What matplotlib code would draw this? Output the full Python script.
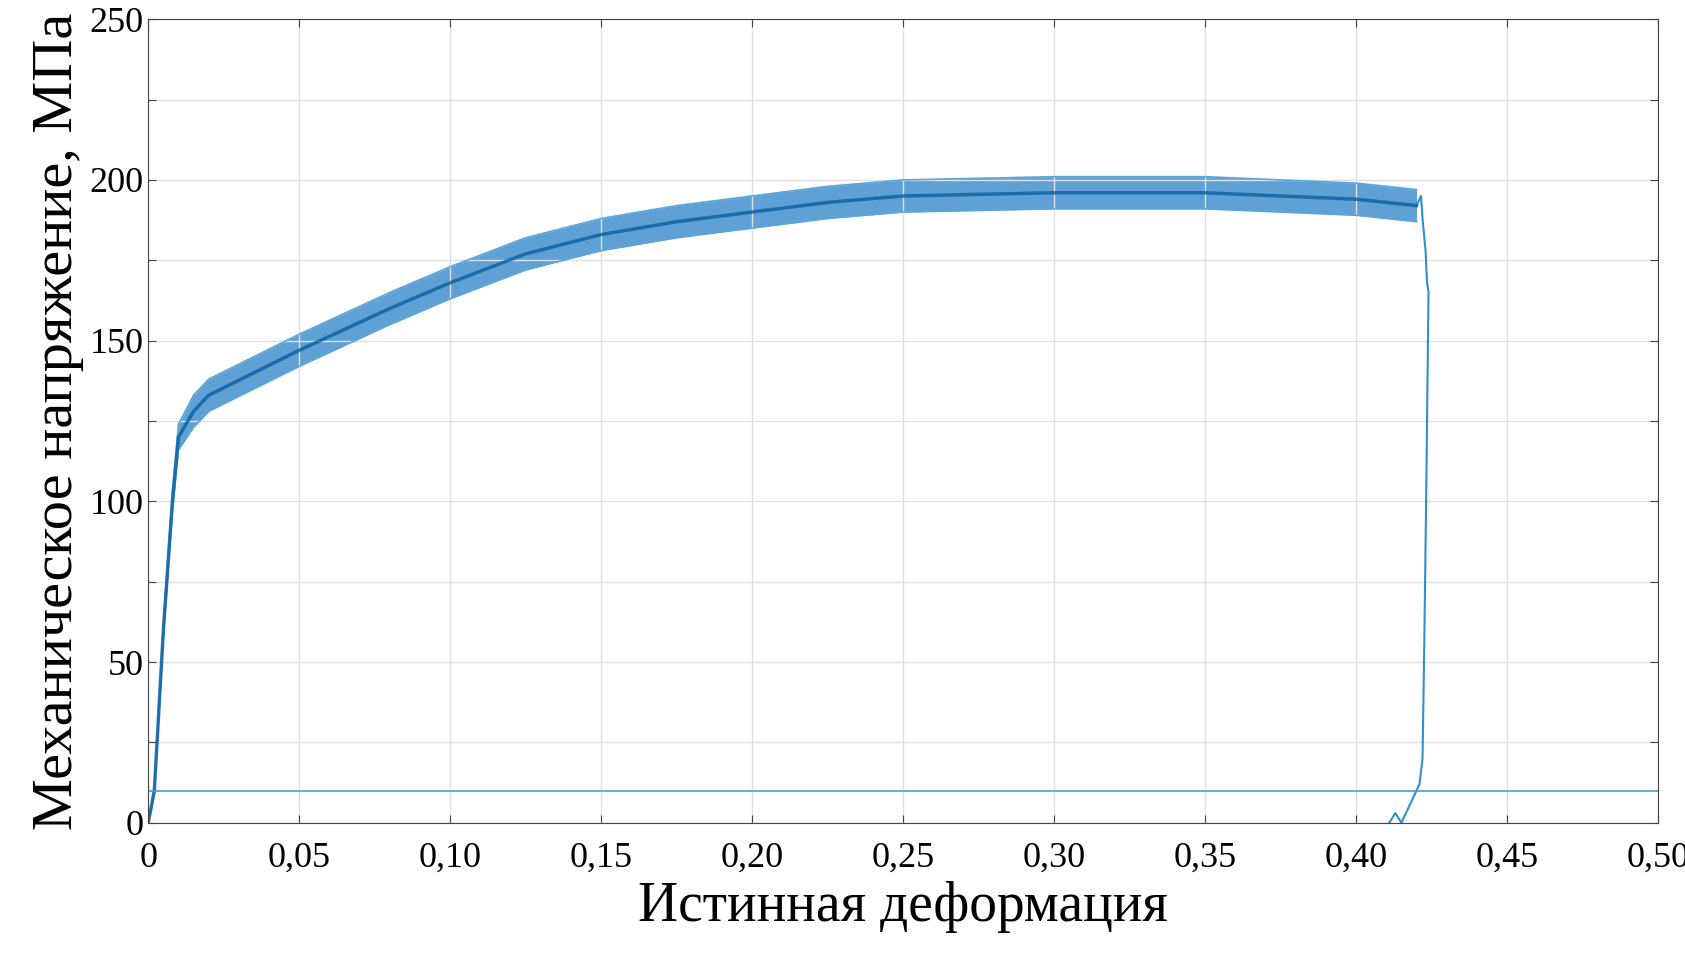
import matplotlib
matplotlib.use("Agg")
import matplotlib.pyplot as plt
import numpy as np

plt.rcParams['font.family'] = ['Liberation Serif', 'DejaVu Serif']

strain = [0.0, 0.002, 0.005, 0.008, 0.010, 0.015, 0.02, 0.05, 0.08, 0.10, 0.125,
          0.15, 0.175, 0.20, 0.225, 0.25, 0.30, 0.35, 0.40, 0.42]
stress = [0.0, 10, 60, 100, 120, 128, 133, 147, 160, 168, 177,
          183, 187, 190, 193, 195, 196, 196, 194, 192]
band = [0, 1, 2, 3, 4, 5, 5, 5, 5, 5, 5, 5, 5, 5, 5, 5, 5, 5, 5, 5]

tail_strain = [0.42, 0.4215, 0.422, 0.423, 0.4235, 0.424, 0.4238, 0.4232, 0.4225, 0.422, 0.421, 0.419, 0.417, 0.415, 0.413, 0.411]
tail_stress = [192, 195, 188, 178, 168, 165, 150, 100, 50, 20, 12, 8, 4, 0, 3, 0]

base_level = 10

fig = plt.figure(figsize=(16.85, 9.6), dpi=100)
ax = fig.add_axes([0.088, 0.143, 0.896, 0.837])
c = '#0072BD'
s = np.array(stress); b = np.array(band)
ax.fill_between(strain, s - b, s + b, color='#2a82c6', alpha=0.75, lw=0)
ax.plot(strain, s + b, color='#5aa6dc', lw=1.2)
ax.plot(strain, s - b, color='#5aa6dc', lw=1.2)
ax.plot(strain, s, color='#0b5fa0', lw=2.5, alpha=0.8)
ax.plot(tail_strain, tail_stress, color=c, lw=1.5, alpha=0.8)
ax.axhline(base_level, color='#4a9bd6', lw=1.2)

ax.set_xlim(0, 0.5)
ax.set_ylim(0, 250)
ax.set_xticks(np.arange(0, 0.51, 0.05))
ax.set_xticklabels(['0'] + [f"{v:.2f}".replace('.', ',') for v in np.arange(0.05, 0.51, 0.05)])
ax.set_yticks(np.arange(0, 251, 25))
ax.set_yticklabels([str(v) if v % 50 == 0 else '' for v in range(0, 251, 25)])
ax.grid(True, color='#e0e0e0', lw=1)
ax.tick_params(direction='in', top=True, right=True, labelsize=26, length=6, color='#444')
ax.tick_params(axis='x', pad=14)
for sp in ax.spines.values():
    sp.set_color('#444')
ax.set_xlabel('Истинная деформация', fontsize=40, labelpad=4)
ax.set_ylabel('Механическое напряжение, МПа', fontsize=42, labelpad=4)
fig.savefig('out.png', dpi=100)
